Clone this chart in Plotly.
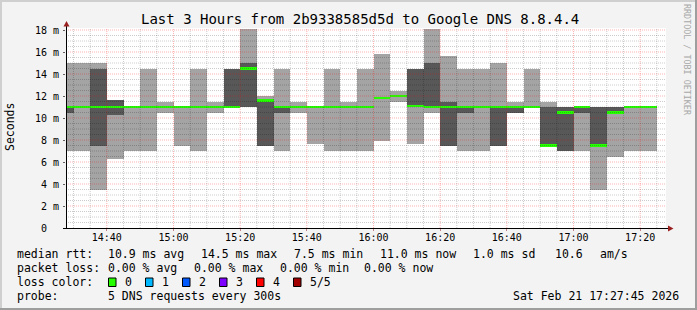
import pandas as pd
import plotly.graph_objects as go

# ---------------- data ----------------
DATE = "2026-02-21"
WINDOW_START = "2026-02-21 14:27:45"
WINDOW_END = "2026-02-21 17:27:45"
STEP_SECONDS = 300

end_times = ["14:30", "14:35", "14:40", "14:45", "14:50", "14:55", "15:00", "15:05",
             "15:10", "15:15", "15:20", "15:25", "15:30", "15:35", "15:40", "15:45",
             "15:50", "15:55", "16:00", "16:05", "16:10", "16:15", "16:20", "16:25",
             "16:30", "16:35", "16:40", "16:45", "16:50", "16:55", "17:00", "17:05",
             "17:10", "17:15", "17:20", "17:25"]
ping_min = [7.0, 7.0, 3.5, 6.3, 7.0, 7.0, 10.5, 7.5,
            7.0, 10.5, 11.0, 11.0, 7.5, 7.0, 10.5, 7.6,
            7.0, 7.0, 7.0, 7.9, 11.5, 7.6, 10.5, 7.5,
            7.0, 7.0, 7.5, 10.5, 11.0, 7.5, 7.0, 7.0,
            3.5, 6.5, 7.0, 7.0]
ping_low = [10.5, 11.0, 7.5, 10.3, 11.0, 11.0, 11.0, 11.0,
            11.0, 11.0, 11.0, 11.0, 7.5, 10.5, 11.0, 11.0,
            11.0, 11.0, 11.0, 11.8, 12.0, 11.1, 11.0, 7.5,
            10.5, 11.0, 7.5, 10.5, 11.0, 7.5, 7.0, 10.5,
            7.5, 10.5, 11.0, 11.0]
ping_median = [11.0, 11.0, 11.0, 11.0, 11.0, 11.0, 11.0, 11.0,
               11.0, 11.0, 11.0, 14.5, 11.6, 11.0, 11.0, 11.0,
               11.0, 11.0, 11.0, 11.8, 12.0, 11.1, 11.0, 11.0,
               11.0, 11.0, 11.0, 11.0, 11.0, 7.5, 10.5, 11.0,
               7.5, 10.5, 11.0, 11.0]
ping_high = [11.0, 11.0, 14.5, 11.6, 11.0, 11.0, 11.0, 11.0,
             11.0, 11.0, 14.5, 15.0, 11.6, 11.0, 11.0, 11.0,
             11.0, 11.0, 11.0, 11.8, 12.0, 14.5, 15.0, 11.5,
             11.0, 11.0, 11.0, 11.0, 11.0, 11.0, 11.0, 11.0,
             11.0, 11.0, 11.0, 11.0]
ping_max = [15.0, 15.0, 15.0, 11.6, 11.0, 14.5, 11.5, 11.0,
            14.5, 11.5, 14.5, 18.1, 12.0, 14.5, 11.5, 11.0,
            14.5, 11.5, 14.5, 15.8, 12.5, 14.5, 18.1, 15.6,
            14.5, 14.5, 15.0, 11.5, 14.5, 11.5, 11.0, 11.0,
            11.0, 11.0, 11.0, 11.0]

y_tick_values = [0, 2, 4, 6, 8, 10, 12, 14, 16, 18]
y_tick_labels = ["0\u00a0\u00a0", "2 m", "4 m", "6 m", "8 m", "10 m", "12 m", "14 m", "16 m", "18 m"]

title_text = "Last 3 Hours from 2b9338585d5d to Google DNS 8.8.4.4"
y_title = "Seconds"
side_text = "RRDTOOL / TOBI OETIKER"
median_label = "median rtt:"
median_stats = ["10.9 ms avg", "14.5 ms max", "7.5 ms min", "11.0 ms now", "1.0 ms sd", "10.6", "am/s"]
loss_label = "packet loss:"
loss_stats = ["0.00 % avg", "0.00 % max", "0.00 % min", "0.00 % now"]
color_label = "loss color:"
loss_names = ["0", "1", "2", "3", "4", "5/5"]
loss_colors = ["#26ff00", "#00b8ff", "#0059ff", "#7e00ff", "#ff0000", "#a00000"]
probe_label = "probe:"
probe_text = "5 DNS requests every 300s"
timestamp_text = "Sat Feb 21 17:27:45 2026"

# ---------------- styles / layout ----------------
L, T, W, H = 66, 28, 600, 200
FIG_W, FIG_H = 697, 310
MONO = "DejaVu Sans Mono"
LIGHT = "#a4a4a4"
DARK = "#585858"
Y_MAX = H / 11.0
MEDIAN_BAND = 0.2
LEGEND_SIZE = 11.5
TICK_SIZE = 10


def px(x):
    return (x - L) / W


def py(y):
    return (T + H - y) / H


ends = pd.to_datetime([f"{DATE} {t}" for t in end_times])
centers = ends - pd.Timedelta(seconds=STEP_SECONDS / 2)
bar_w = STEP_SECONDS * 1000

light_h = [hi - lo for lo, hi in zip(ping_min, ping_max)]
dark_h = [hi - lo for lo, hi in zip(ping_low, ping_high)]
med_base = [m - MEDIAN_BAND / 2 for m in ping_median]

fig = go.Figure()
fig.add_trace(go.Bar(x=centers, y=light_h, base=ping_min, width=bar_w,
                     marker=dict(color=LIGHT, line=dict(width=0)), hoverinfo="skip"))
fig.add_trace(go.Bar(x=centers, y=dark_h, base=ping_low, width=bar_w,
                     marker=dict(color=DARK, line=dict(width=0)), hoverinfo="skip"))
fig.add_trace(go.Bar(x=centers, y=[MEDIAN_BAND] * len(ping_median), base=med_base, width=bar_w,
                     marker=dict(color=loss_colors[0], line=dict(width=0)), hoverinfo="skip"))

shapes = []
# grid drawn above the smoke, like rrdtool
minor_col = "rgba(0,0,0,0.2)"
major_col = "rgba(255,0,0,0.3)"
yv = 0.5
while yv < Y_MAX:
    is_major = abs(yv / 2 - round(yv / 2)) < 1e-9
    shapes.append(dict(type="line", layer="above", xref="paper", yref="y",
                       x0=0, x1=1, y0=yv, y1=yv,
                       line=dict(color=major_col if is_major else minor_col, width=1, dash="1px,1px")))
    yv += 0.5
gt = pd.Timestamp(f"{DATE} 14:30")
gend = pd.Timestamp(WINDOW_END)
while gt < gend:
    is_major = gt.minute % 20 == 0
    shapes.append(dict(type="line", layer="above", xref="x", yref="paper",
                       x0=gt, x1=gt, y0=0, y1=1,
                       line=dict(color=major_col if is_major else minor_col, width=1, dash="1px,1px")))
    gt += pd.Timedelta(minutes=5)

# axis lines and arrows
shapes.append(dict(type="line", xref="paper", yref="paper", layer="above",
                   x0=px(66.5), x1=px(66.5), y0=py(228.5), y1=py(23),
                   line=dict(color="#000000", width=1)))
shapes.append(dict(type="line", xref="paper", yref="paper", layer="above",
                   x0=px(63), x1=px(669), y0=py(228.5), y1=py(228.5),
                   line=dict(color="#000000", width=1)))
arrow_col = "#9a2020"
shapes.append(dict(type="path", xref="paper", yref="paper", layer="above",
                   path=f"M {px(63.5)},{py(26.5)} L {px(69.5)},{py(26.5)} L {px(66.5)},{py(21)} Z",
                   fillcolor=arrow_col, line=dict(width=0)))
shapes.append(dict(type="path", xref="paper", yref="paper", layer="above",
                   path=f"M {px(668)},{py(225.5)} L {px(668)},{py(231.5)} L {px(673.5)},{py(228.5)} Z",
                   fillcolor=arrow_col, line=dict(width=0)))

# outer 3D frame
shapes += [
    dict(type="rect", xref="paper", yref="paper", x0=px(0), x1=px(FIG_W), y0=py(0), y1=py(2),
         fillcolor="#cfcfcf", line=dict(width=0), layer="above"),
    dict(type="rect", xref="paper", yref="paper", x0=px(0), x1=px(2), y0=py(0), y1=py(FIG_H),
         fillcolor="#cfcfcf", line=dict(width=0), layer="above"),
    dict(type="rect", xref="paper", yref="paper", x0=px(0), x1=px(FIG_W), y0=py(FIG_H - 2), y1=py(FIG_H),
         fillcolor="#9e9e9e", line=dict(width=0), layer="above"),
    dict(type="rect", xref="paper", yref="paper", x0=px(FIG_W - 2), x1=px(FIG_W), y0=py(0), y1=py(FIG_H),
         fillcolor="#9e9e9e", line=dict(width=0), layer="above"),
]

annotations = []


def text(x, y, s, size=LEGEND_SIZE, color="#000000", xanchor="left", angle=0):
    annotations.append(dict(x=px(x), y=py(y), xref="paper", yref="paper", text=s,
                            showarrow=False, xanchor=xanchor, yanchor="middle",
                            textangle=angle, borderpad=0,
                            font=dict(family=MONO, size=size, color=color)))


text(140, 19, title_text, size=14)
text(687, 60, side_text, size=8.4, color="#a8a8a8", xanchor="center", angle=90)
text(10, 127, y_title, xanchor="center", angle=-90)

row_y = [254, 267.7, 281.5, 295.5]
text(16, row_y[0], median_label)
for xx, s in zip([107.3, 200, 292.7, 379, 471.5, 554.3, 599.3], median_stats):
    text(xx, row_y[0], s)
text(16, row_y[1], loss_label)
for xx, s in zip([107.3, 193.3, 279.3, 363], loss_stats):
    text(xx, row_y[1], s)
text(16, row_y[2], color_label)
box_x = [108.5, 145.5, 182.5, 219.5, 256.5, 293.5]
for bx, name, col in zip(box_x, loss_names, loss_colors):
    shapes.append(dict(type="rect", xref="paper", yref="paper",
                       x0=px(bx), x1=px(bx + 7.5), y0=py(286.5), y1=py(278),
                       fillcolor=col, line=dict(color="#000000", width=1)))
    text(bx + 15, row_y[2], name)
text(16, row_y[3], probe_label)
text(107.3, row_y[3], probe_text)
text(680, row_y[3], timestamp_text, xanchor="right")

fig.update_layout(
    width=FIG_W, height=FIG_H,
    margin=dict(l=L, r=FIG_W - L - W, t=T, b=FIG_H - T - H, pad=0),
    paper_bgcolor="#f3f3f3", plot_bgcolor="#ffffff",
    barmode="overlay", bargap=0, showlegend=False,
    shapes=shapes, annotations=annotations,
    xaxis=dict(type="date", range=[WINDOW_START, WINDOW_END],
               tick0=f"{DATE} 14:40", dtick=20 * 60 * 1000, tickformat="%H:%M",
               showgrid=False, zeroline=False, showline=False,
               ticks="outside", ticklen=2, tickcolor="#c08080", ticklabelstandoff=-2,
               tickfont=dict(family=MONO, size=TICK_SIZE, color="#000000")),
    yaxis=dict(range=[0, Y_MAX], tickmode="array", tickvals=y_tick_values, ticktext=y_tick_labels,
               showgrid=False, zeroline=False, showline=False,
               ticks="outside", ticklen=2, tickcolor="#606060", ticklabelstandoff=2,
               tickfont=dict(family=MONO, size=TICK_SIZE, color="#000000")),
)

fig.write_html("out.html")
